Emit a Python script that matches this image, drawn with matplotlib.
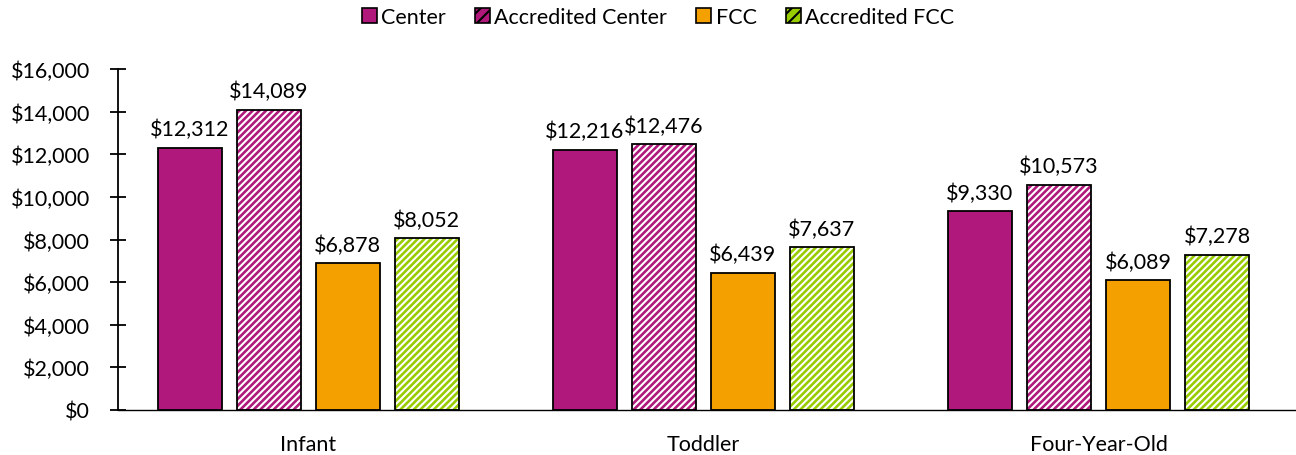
import matplotlib
matplotlib.use("Agg")
import matplotlib.pyplot as plt
import numpy as np
from matplotlib.patches import Patch
from matplotlib.ticker import FuncFormatter

categories = ["Infant", "Toddler", "Four-Year-Old"]
series = ["Center", "Accredited Center", "FCC", "Accredited FCC"]
center = [12312, 12216, 9330]
acc_center = [14089, 12476, 10573]
fcc = [6878, 6439, 6089]
acc_fcc = [8052, 7637, 7278]
values = [center, acc_center, fcc, acc_fcc]
colors = ["#B0187B", "#B0187B", "#F4A000", "#99CC00"]
hatched = [False, True, False, True]

plt.rcParams['font.family'] = ['Lato', 'DejaVu Sans']
plt.rcParams['hatch.linewidth'] = 1.5
plt.rcParams['hatch.color'] = 'white'

fig = plt.figure(figsize=(12.96, 4.56), dpi=100)
ax = fig.add_axes([118/1296, 1-411/456, 1-118/1296, (411-70)/456])

x = np.arange(len(categories))
step = 0.2
width = 0.162
for i, (vals, c, h) in enumerate(zip(values, colors, hatched)):
    pos = x + (i - 1.5) * step
    if h:
        ax.bar(pos, vals, width, color=c, edgecolor='white', linewidth=0, hatch='/////', zorder=2)
    else:
        ax.bar(pos, vals, width, color=c, linewidth=0, zorder=2)
    ax.bar(pos, vals, width, fill=False, edgecolor='black', linewidth=1.3, zorder=3)
    for p, v in zip(pos, vals):
        ax.annotate(f"${v:,}", (p, v), xytext=(0, 6), textcoords='offset points',
                    ha='center', va='bottom', fontsize=15.5)

ax.set_xlim(-0.482, 2.5)
ax.set_ylim(0, 16000)
ax.set_yticks(np.arange(0, 16001, 2000))
ax.yaxis.set_major_formatter(FuncFormatter(lambda v, _: f"${int(v):,}"))
ax.set_xticks(x)
ax.set_xticklabels(categories)
ax.tick_params(axis='x', length=0, labelsize=15.5, pad=17)
ax.tick_params(axis='y', direction='inout', length=12, width=1.3, labelsize=15.5, pad=14)
for s in ['top', 'right']:
    ax.spines[s].set_visible(False)
ax.spines['left'].set_linewidth(1.3)
ax.spines['bottom'].set_linewidth(1.0)

handles = []
for lab, c, h in zip(series, colors, hatched):
    handles.append(Patch(facecolor=c, edgecolor='black', hatch='///' if h else None, label=lab, linewidth=1.2))
fig.legend(handles=handles, loc='center', bbox_to_anchor=(658/1296, 1-18/456), ncol=4,
           frameon=False, fontsize=15.5, handlelength=0.7, handleheight=0.7,
           handletextpad=0.2, columnspacing=1.35)

fig.savefig("out.png", dpi=100)
